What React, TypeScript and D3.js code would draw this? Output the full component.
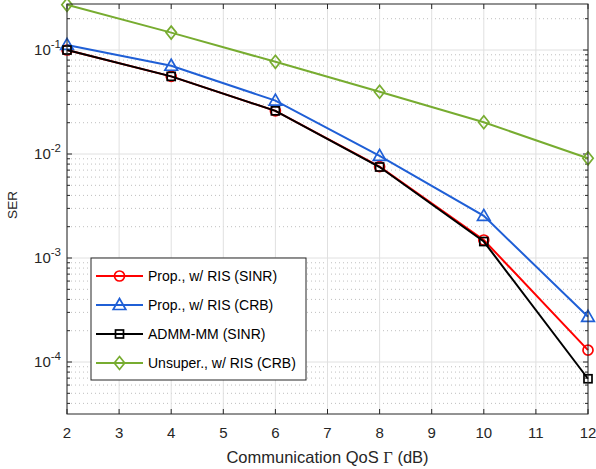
import React from 'react';
import * as d3 from 'd3';

const qos = [2, 4, 6, 8, 10, 12];
const xTicks = [2, 3, 4, 5, 6, 7, 8, 9, 10, 11, 12];
const yDecades = [-4, -3, -2, -1];

const serPropSinr = [0.1, 0.0558, 0.026, 0.00755, 0.00149, 1.3e-4];
const serPropCrb = [0.112, 0.0706, 0.0326, 0.0096, 0.00254, 2.72e-4];
const serAdmm = [0.1, 0.0558, 0.026, 0.0075, 0.00144, 6.9e-5];
const serUnsuper = [0.272, 0.147, 0.077, 0.0397, 0.0202, 0.0091];

const seriesNames = ['Prop., w/ RIS (SINR)', 'Prop., w/ RIS (CRB)', 'ADMM-MM (SINR)', 'Unsuper., w/ RIS (CRB)'];

const W = 596;
const H = 469;
const margin = { left: 67, right: 8, top: 4, bottom: 55 };
const textColor = '#262626';
const font = '"Liberation Sans", Arial, Helvetica, sans-serif';

type Marker = 'circle' | 'triangle' | 'square' | 'diamond';

const series = [
  { name: seriesNames[0], values: serPropSinr, color: '#ff0000', marker: 'circle' as Marker },
  { name: seriesNames[1], values: serPropCrb, color: '#1f5fd6', marker: 'triangle' as Marker },
  { name: seriesNames[2], values: serAdmm, color: '#000000', marker: 'square' as Marker },
  { name: seriesNames[3], values: serUnsuper, color: '#77ac30', marker: 'diamond' as Marker },
];

function MarkerShape({ kind, x, y, color }: { kind: Marker; x: number; y: number; color: string }) {
  const common = { fill: 'none', stroke: color, strokeWidth: 1.7 };
  if (kind === 'circle') return <circle cx={x} cy={y} r={5} {...common} />;
  if (kind === 'square') return <rect x={x - 4} y={y - 4} width={8} height={8} {...common} />;
  if (kind === 'triangle') {
    return <path d={`M${x},${y - 6.5}L${x + 6.3},${y + 4.5}L${x - 6.3},${y + 4.5}Z`} {...common} />;
  }
  return <path d={`M${x},${y - 6.5}L${x + 5.2},${y}L${x},${y + 6.5}L${x - 5.2},${y}Z`} {...common} />;
}

export default function App() {
  const x = d3.scaleLinear().domain([2, 12]).range([margin.left, W - margin.right]);
  const y = d3.scaleLog().domain([Math.pow(10, -4.5), 0.277]).range([H - margin.bottom, margin.top]);
  const [x0, x1] = x.range();
  const [yb, yt] = y.range();

  // minor decade ticks 2..9 x 10^e inside the y domain
  const minor: number[] = [];
  [-5, -4, -3, -2, -1].forEach(e => {
    for (let k = 2; k <= 9; k++) {
      const v = k * Math.pow(10, e);
      if (v > y.domain()[0] && v < y.domain()[1]) minor.push(v);
    }
  });

  const line = d3.line<number>()
    .x((_, i) => x(qos[i]))
    .y(d => y(d));

  const legend = { x: 91, y: 258, w: 215, h: 122 };

  return (
    <svg width={W} height={H} style={{ position: 'absolute', left: 0, top: 0 }} fontFamily={font}>
      <rect width={W} height={H} fill="#fff" />
      {/* grid */}
      {minor.map((v, i) => (
        <line key={'mg' + i} x1={x0} x2={x1} y1={y(v)} y2={y(v)} stroke="#bfbfbf" strokeWidth={1} strokeDasharray="1,3" />
      ))}
      {xTicks.map(t => (
        <line key={'gx' + t} x1={x(t)} x2={x(t)} y1={yb} y2={yt} stroke="#e0e0e0" strokeWidth={1} />
      ))}
      {yDecades.map(e => (
        <line key={'gy' + e} x1={x0} x2={x1} y1={y(Math.pow(10, e))} y2={y(Math.pow(10, e))} stroke="#e0e0e0" strokeWidth={1} />
      ))}
      {/* ticks */}
      {xTicks.map(t => (
        <g key={'tx' + t} stroke={textColor} strokeWidth={1}>
          <line x1={x(t)} x2={x(t)} y1={yb} y2={yb - 5} />
          <line x1={x(t)} x2={x(t)} y1={yt} y2={yt + 5} />
        </g>
      ))}
      {yDecades.map(e => (
        <g key={'ty' + e} stroke={textColor} strokeWidth={1}>
          <line x1={x0} x2={x0 + 5} y1={y(Math.pow(10, e))} y2={y(Math.pow(10, e))} />
          <line x1={x1} x2={x1 - 5} y1={y(Math.pow(10, e))} y2={y(Math.pow(10, e))} />
        </g>
      ))}
      {minor.map((v, i) => (
        <g key={'tm' + i} stroke={textColor} strokeWidth={1}>
          <line x1={x0} x2={x0 + 3} y1={y(v)} y2={y(v)} />
          <line x1={x1} x2={x1 - 3} y1={y(v)} y2={y(v)} />
        </g>
      ))}
      {/* series */}
      {series.map(s => (
        <g key={s.name}>
          <path d={line(s.values) || ''} fill="none" stroke={s.color} strokeWidth={2} />
          {s.values.map((v, i) => (
            <MarkerShape key={i} kind={s.marker} x={x(qos[i])} y={y(v)} color={s.color} />
          ))}
        </g>
      ))}
      {/* box */}
      <rect x={x0} y={yt} width={x1 - x0} height={yb - yt} fill="none" stroke={textColor} strokeWidth={1} />
      {/* tick labels */}
      {xTicks.map(t => (
        <text key={'lx' + t} x={x(t)} y={yb + 24} textAnchor="middle" fontSize={15} fill={textColor}>{t}</text>
      ))}
      {yDecades.map(e => (
        <text key={'ly' + e} x={61} y={y(Math.pow(10, e)) + 5} textAnchor="end" fontSize={15} fill={textColor}>
          10<tspan dy={-7} fontSize={11.5}>{e}</tspan>
        </text>
      ))}
      <text x={(x0 + x1) / 2} y={yb + 49} textAnchor="middle" fontSize={16.5} fill={textColor}>
        Communication QoS <tspan fontFamily='"Liberation Serif", "DejaVu Serif", serif'>Γ</tspan> (dB)
      </text>
      <text transform={`translate(17,205) rotate(-90)`} textAnchor="middle" fontSize={13.5} fill={textColor}>SER</text>
      {/* legend */}
      <rect x={legend.x} y={legend.y} width={legend.w} height={legend.h} fill="#fff" stroke={textColor} strokeWidth={1} />
      {series.map((s, i) => {
        const ly = legend.y + 18 + i * 29;
        return (
          <g key={'lg' + i}>
            <line x1={96} x2={143} y1={ly} y2={ly} stroke={s.color} strokeWidth={2} />
            <MarkerShape kind={s.marker} x={119.5} y={ly} color={s.color} />
            <text x={148} y={ly + 5} fontSize={14} fill="#000">{s.name}</text>
          </g>
        );
      })}
    </svg>
  );
}
